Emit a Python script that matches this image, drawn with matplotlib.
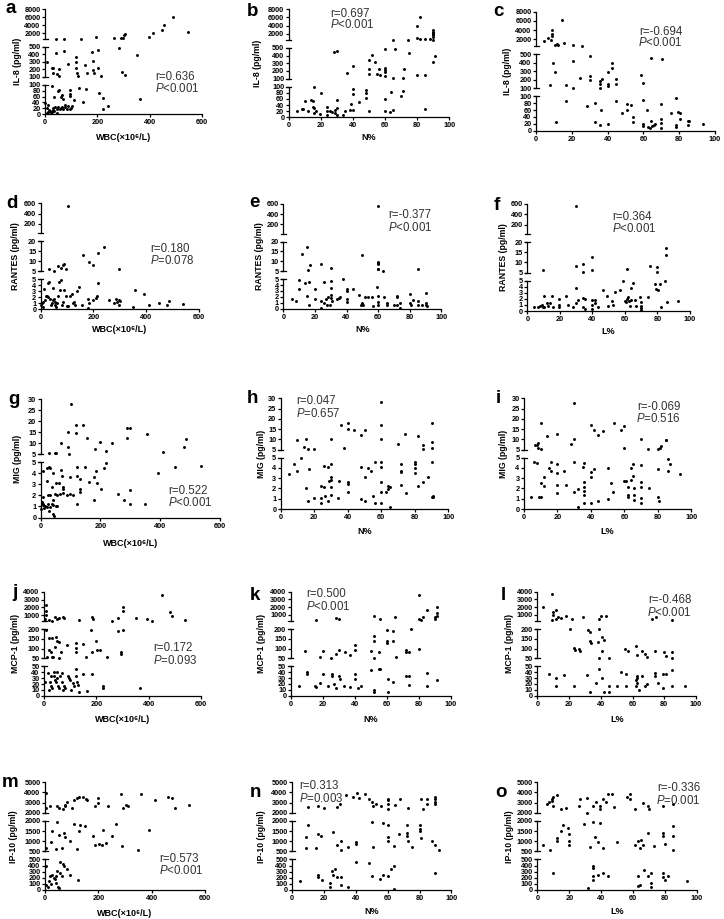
import numpy as np
import matplotlib
matplotlib.use("Agg")
import matplotlib.pyplot as plt

plt.rcParams['font.family'] = ['Liberation Sans', 'DejaVu Sans']
plt.rcParams['mathtext.fontset'] = 'custom'
plt.rcParams['mathtext.rm'] = 'Liberation Sans'
plt.rcParams['mathtext.it'] = 'Liberation Sans:italic'

# ---------------- data (x, y pairs) ----------------
# a: WBC vs IL-8
A_X = [42, 74, 137, 194, 262, 291, 297, 303, 304, 396, 414, 453, 489, 448, 545,
       6, 42, 28, 32, 29, 55, 47, 52, 74, 89, 120, 120, 120, 123, 128, 152, 162, 181, 185, 185, 188, 202, 202, 214, 282, 294, 304, 352,
       0, 6, 28, 36, 51, 55, 61, 65, 69, 96, 96, 96, 110, 130, 144, 158, 206, 221, 221, 241, 363,
       6, 10, 15, 22, 26, 29, 32, 38, 45, 51, 57, 65, 70, 77, 83, 89, 96, 102, 77, 45, 12, 18, 35, 60, 100]
A_Y = [600, 600, 600, 930, 680, 680, 850, 1500, 1750, 1100, 1900, 3970, 6100, 2800, 2160,
       300, 414, 218, 218, 155, 205, 141, 105, 450, 268, 360, 300, 222, 155, 105, 260, 155, 432, 305, 186, 155, 464, 210, 105, 490, 168, 123, 395,
       37, 20, 97, 58, 77, 81, 60, 64, 52, 83, 62, 70, 49, 87, 40, 85, 73, 56, 17, 27, 50,
       6, 9, 15, 6, 9, 15, 20, 24, 19, 24, 17, 24, 19, 24, 17, 28, 19, 28, 32, 6, 30, 12, 10, 20, 20]

# b: N% vs IL-8
B_X = [65, 74, 80, 82, 80, 82, 85, 88, 90, 90, 90, 90, 90, 90, 90,
       28, 30, 66, 52, 50, 54, 36, 40, 50, 50, 55, 56, 57, 60, 60, 60, 60, 60, 65, 71, 72, 75, 80, 85, 90, 91,
       5, 8, 9, 10, 12, 14, 15, 16, 15, 16, 16, 17, 19.5, 20, 24, 24, 24, 26, 27, 29, 29, 30, 30, 30, 34, 35, 38, 39, 40, 40, 40,
       44, 48, 48, 48, 50, 63, 64, 65, 60, 60, 71, 70, 85]
B_Y = [560, 560, 880, 640, 3840, 6080, 800, 800, 560, 1120, 1600, 1920, 2240, 2560, 2880,
       444, 461, 487, 405, 349, 311, 173, 268, 220, 156, 160, 220, 152, 487, 240, 212, 186, 134, 104, 104, 229, 431, 152, 152, 311, 392,
       19, 28, 28, 52, 21, 58, 52, 99, 33, 30, 13, 19, 10, 79, 33, 19, 8, 21, 17, 13, 24, 58, 9, 30, 8, 19, 24, 43, 91, 77, 24,
       50, 90, 80, 62, 19, 16, 82, 24, 60, 19, 86, 69, 28]

# c: L% vs IL-8
C_X = [4.5, 6.5, 8.7, 8.7, 9, 8.4, 10.8, 12, 12.3, 14.3, 15.6, 20.8, 25.5,
       7.6, 9.5, 10.6, 16.7, 20.8, 20.8, 24.5, 30, 30.3, 30.3, 35.7, 35.7, 35.7, 36.8, 40.3, 40.3, 40.3, 42.6, 42.6, 44.6, 44.6, 58.7, 60, 64, 70.3,
       11, 17, 28.6, 32.9, 32.9, 35.7, 36.4, 40.3, 44.6, 47.8, 50.6, 50.6, 53, 54, 54, 60, 60, 60, 62, 62.6, 63.6, 64, 65, 65.8, 66.4,
       70, 70, 70, 70, 75.3, 78.4, 78.4, 78.4, 79.6, 80.3, 80.3, 85, 85, 85.5, 93.3]
C_Y = [1556, 2222, 2667, 3926, 3185, 1926, 815, 890, 741, 6148, 1185, 741, 593,
       139, 394, 296, 139, 418, 103, 218, 480, 249, 202, 186, 155, 104, 206, 296, 147, 127, 394, 343, 206, 151, 257, 163, 449, 437,
       25, 86, 71, 80, 24, 16, 61, 20, 86, 51, 78, 61, 74, 41, 24, 89, 20, 14, 59, 12, 7, 28, 14, 17, 20,
       77, 34, 22, 9, 51, 95, 17, 10, 55, 53, 34, 29, 18, 29, 19]

# d: WBC vs RANTES
D_X = [102,
       159, 183, 200, 218, 240, 298, 33, 50, 67, 77, 86, 90, 96,
       0, 4, 8, 10, 14, 16, 19, 23, 27, 29, 33, 35, 38, 42, 45, 48, 50, 54, 56, 58, 63, 67, 71, 73, 76, 80, 86, 90, 96, 99,
       105, 111, 117, 124, 126, 130, 139, 145, 155, 178, 181, 184, 200, 210, 212, 218, 259, 279, 285, 290, 296, 298, 300,
       349, 359, 392, 410, 450, 478, 485, 538]
D_Y = [548,
       13, 9.5, 8, 14, 17.3, 6, 6, 5.3, 7.6, 6.8, 8.1, 8.5, 6.3,
       0.7, 1.1, 1.3, 0.4, 3.4, 1.6, 2.2, 2.3, 2.0, 4.4, 4.6, 1.8, 0.7, 1.0, 1.6, 3.6, 1.8, 0.7, 1.2, 0.4, 1.0, 2.3, 4.6, 3.2, 4.8, 0.7, 1.2, 3.3, 2.3, 0.5,
       0.6, 2.2, 2.5, 1.1, 1.3, 0.8, 3.1, 3.8, 0.7, 1.8, 0.2, 1.0, 1.6, 1.9, 2.2, 4.4, 1.5, 1.1, 1.8, 1.2, 1.5, 0.7, 1.4,
       0.4, 3.3, 2.5, 0.7, 1.1, 0.7, 1.4, 0.9]

# e: N% vs RANTES
E_X = [60,
       11.7, 15.2, 16.9, 15.8, 24, 30, 50, 60, 60, 60, 60, 60, 63, 85,
       5.3, 8, 10, 10, 14, 16, 15, 16, 20, 20, 24, 24, 26, 26, 27, 27.4, 28, 29.5, 30, 30, 30, 30, 30.8, 34, 35, 36, 38,
       40, 40, 40, 40, 44, 48, 49, 50, 50.6, 51.7, 53.8, 56, 56.5, 59.5, 60, 60, 60, 63.7, 65.4, 65.6, 70, 71.7, 72, 72,
       73.8, 74, 80, 80, 80.6, 82, 85, 85, 88, 90, 90, 90.7, 90.3]
E_Y = [560,
       13.8, 17.3, 8, 5.8, 8.5, 6.5, 13, 9.5, 9, 8.5, 6.3, 6, 5.3, 6.3,
       1.6, 1.3, 4.8, 3.3, 4.4, 4.5, 2.1, 0.6, 3.4, 1.7, 1.3, 0.2, 4.5, 1.0, 1.7, 0.7, 2.0, 0.7, 4.7, 3.5, 2.3, 1.8, 1.3, 1.7, 1.8, 1.9, 5,
       3.3, 3.0, 1.7, 1.1, 3.3, 2.4, 0.7, 1.0, 0.6, 1.9, 1.9, 1.9, 0.4, 3.6, 2.1, 1.1, 0.6, 1.9, 0.9, 0.6, 0.6, 2.2, 2.0, 0.6,
       1.0, 0.2, 2.5, 1.0, 0.7, 1.5, 1.3, 0.7, 0.7, 2.6, 0.9, 0.5, 0.6]

# f: L% vs RANTES
F_X = [30,
       9.8, 29.7, 34.4, 34.4, 39.5, 39.5, 61, 75.4, 80, 80, 85, 85,
       4, 6.8, 7.8, 8.8, 9.4, 10, 10, 12, 13, 14, 15, 16, 19.7, 19.7, 19.7, 24, 25, 28, 29.7, 30, 31, 34, 34, 35.5, 35.5,
       39.5, 39.5, 39.5, 41.6, 41.6, 43.6, 46.7, 48.8, 49.8, 51.8, 52.9, 54, 57, 59, 60, 60.7, 61, 61.7, 62.7, 63, 64, 64, 65, 66,
       67, 69, 70, 70, 70, 70, 74.4, 78.5, 79, 80.5, 81.6, 82, 84.6, 86, 92.8]
F_Y = [547,
       6.3, 8, 9.2, 5.2, 12.8, 6.3, 6.6, 8.3, 7.8, 5.5, 17.2, 13.8,
       0.6, 0.7, 0.9, 1.0, 0.7, 0.6, 2.5, 1.3, 0.8, 1.3, 2.5, 0.7, 2.0, 1.0, 0.6, 2.4, 1.0, 0.7, 3.7, 1.3, 1.8, 2.2, 0.6, 2.0, 0.4,
       1.8, 1.0, 0.4, 1.8, 1.3, 0.7, 3.4, 2.5, 0.8, 1.7, 1.0, 3.2, 3.4, 5.0, 1.7, 1.4, 1.9, 2.3, 1.7, 0.8, 1.8, 3.7, 4.6, 1.8,
       0.8, 2.3, 1.4, 0.9, 0.55, 0.2, 2.3, 4.4, 3.6, 3.4, 4.5, 0.7, 4.9, 1.5, 1.6]

# g: WBC vs MIG
G_X = [100, 118, 143, 118, 90, 68, 93, 95, 29, 48, 51, 156, 183, 199, 219, 239, 288, 288, 299, 357, 409, 478, 485,
       7, 20, 29, 31, 42, 20, 37, 50, 60, 67, 70, 76, 76, 98, 120, 120, 130, 130, 132, 149, 160, 180, 185, 189, 203, 212, 219,
       259, 279, 298, 298, 348, 391, 448, 537, 9, 23, 30, 42, 48, 54, 65, 73, 87, 98, 107, 121, 180, 7, 9, 15, 20, 11, 26, 31,
       40, 51, 56, 2, 4, 29, 37, 40, 45]
G_Y = [27.9, 18.3, 18.3, 14.7, 15, 10, 8.2, 5.2, 5.6, 5.6, 5.6, 12.3, 7.6, 10.6, 6.7, 10.2, 12.6, 16.8, 16.8, 14.4, 6.1, 8.5, 11.8,
       4.2, 4.5, 4.6, 4.5, 4.0, 3.3, 2.8, 3.1, 3.1, 4.3, 3.8, 2.8, 2.6, 3.7, 4.6, 3.8, 2.6, 2.3, 3.5, 4.6, 3.2, 3.7, 4.2, 3.1, 2.6, 4.5, 4.95,
       2.1, 1.6, 2.5, 1.2, 1.2, 4.0, 4.6, 4.7, 1.9, 2.0, 2.0, 1.6, 2.1, 2.0, 2.1, 2.2, 2.0, 2.1, 2.0, 1.25, 1.6, 1.25, 1.1, 1.0, 0.95, 0.85, 1.2, 0.95,
       1.15, 1.0, 1.0, 0.8, 1.4, 0.55, 1.25, 0.3, 0.1]

# h: N% vs MIG
H_X = [10, 15, 14, 16, 20, 30, 36, 38, 40, 40, 44, 48, 50, 60, 60, 60, 70, 74, 82, 85, 85, 90, 90, 90,
       5, 8, 10, 12, 15, 16, 17, 20, 24, 24, 24, 26, 26, 26.4, 28, 28, 29, 30, 30, 30, 30, 30, 35, 34, 40, 40, 40, 48, 48, 50, 50,
       52, 54, 55, 56, 56, 60, 60, 60, 60, 60, 63, 64, 64, 65, 65, 72, 72, 72, 72, 74.6, 80, 80, 80, 80, 82, 85, 88, 90, 90, 90.7, 91]
H_Y = [9.9, 10.2, 6.3, 5.5, 5.3, 10.4, 16.8, 5.7, 18.1, 15, 14.5, 12.0, 14.8, 28, 16.8, 10.2, 7.9, 12.5, 11.7, 7.5, 5.2, 18.1, 8.6, 6.0,
       3.4, 4.4, 3.7, 5.0, 2.0, 0.8, 3.9, 1.1, 1.1, 2.2, 0.55, 4.2, 2.1, 1.3, 4.1, 0.8, 2.7, 4.4, 3.1, 2.8, 2.1, 1.4, 2.7, 1.1, 2.6, 2.4, 1.7, 4.1, 0.95, 3.1, 0.8,
       4.0, 3.7, 1.3, 4.6, 0.55, 4.6, 4.1, 2.6, 1.7, 0.55, 1.7, 1.9, 2.2, 2.1, 0.15, 4.4, 3.7, 3.6, 2.3, 1.6, 4.6, 4.4, 4.0, 3.5, 2.2, 2.6, 3.1, 4.6, 1.2, 1.3, 1.2]

# i: L% vs MIG
I_X = [6.6, 8.2, 8.2, 7.6, 10, 10, 14, 20, 28, 30, 30, 40, 42, 44, 47, 54, 58, 60, 60, 70, 74, 80, 81, 82, 85, 85,
       4, 6, 8, 9, 10, 10, 12, 12, 15, 16, 16, 20, 20, 20, 20, 24, 25, 30, 30, 32, 32, 35.5, 36, 36, 36, 36, 36, 36, 40, 40, 40,
       42, 44, 50, 50, 52, 53, 60, 61, 62, 62, 62, 64, 64, 65, 65.3, 66, 66, 66, 70, 70, 70, 70, 70, 75, 80, 80, 80.6, 86, 87, 86, 93]
I_Y = [7.5, 8.3, 5.8, 7.1, 5.2, 18.1, 11.7, 12.5, 7.9, 10.4, 27.9, 16.9, 14.8, 12.0, 14.2, 18.1, 14.8, 16.4, 5.8, 10.2, 5.2, 5.5, 6.0, 6.6, 9.9, 9.9,
       1.2, 4.6, 4.5, 1.2, 1.2, 2.5, 3.1, 2.2, 4.0, 4.6, 3.7, 4.4, 3.5, 2.3, 1.6, 3.7, 2.3, 1.7, 4.6, 1.9, 0.15, 4.1, 2.1, 1.8, 1.4, 4.5, 2.6, 0.55, 3.6, 3.1, 0.55,
       3.9, 0.8, 4.0, 0.95, 2.5, 1.7, 2.7, 2.7, 2.1, 1.4, 1.2, 2.8, 4.0, 4.4, 3.2, 2.0, 1.4, 0.9, 4.3, 2.6, 2.1, 1.1, 0.55, 2.0, 3.9, 1.2, 0.8, 4.9, 4.4, 3.7, 3.4]

# j: WBC vs MCP-1
J_X = [6, 6, 6, 4, 19, 29, 42, 51, 57, 74, 76, 134, 182, 189, 261, 283, 302, 302, 350, 392, 411, 452, 480, 488, 540,
       6, 19, 29, 45, 51, 42, 57, 19, 25, 13, 32, 34, 57, 64, 89, 121, 121, 121, 150, 159, 181, 182, 197, 204, 214, 240, 282, 293, 293, 302,
       14, 27, 23, 5, 38, 41, 47, 50, 55, 59, 63, 68, 73, 77, 82, 91, 95, 98, 104, 109, 113, 122, 122, 127, 131, 134, 149, 163, 184,
       224, 224, 367, 27, 32, 20, 38, 50, 68]
J_Y = [2290, 1560, 1040, 485, 360, 270, 785, 440, 615, 700, 615, 360, 785, 485, 270, 615, 1990, 1560, 615, 440, 270, 3620, 1340, 870, 300,
       198, 153, 153, 162, 142, 108, 133, 95, 83, 55, 55, 58, 52, 83, 117, 130, 105, 83, 125, 55, 198, 83, 142, 92, 92, 55, 192, 83, 72, 195,
       39, 34, 24, 24, 33, 27, 23, 30, 17, 14, 33, 24, 9, 16, 13, 34, 30, 27, 10, 21, 16, 34, 45, 24, 18, 7, 37, 8, 37,
       13, 17, 14, 16, 14, 10, 40, 41, 39]

# k: N% vs MCP-1
K_X = [16, 28, 30, 52, 56, 65, 80, 80, 81, 82.5, 85, 91, 91, 91, 90, 90,
       9, 18, 20, 25, 28, 30, 34, 37, 40, 40, 50, 52, 52, 52, 55, 60, 60, 60, 64, 64, 66, 72, 72, 74, 75, 80,
       5, 10, 10, 15, 16, 18, 20, 23, 26, 26, 27, 28, 30, 31, 33, 37, 40, 40, 42, 44, 50, 52, 52, 55, 56, 61, 61, 64, 72, 74, 74, 85, 85, 91]
K_Y = [270, 615, 440, 870, 440, 785, 3600, 440, 350, 700, 1640, 1300, 1990, 870, 700, 435,
       90, 55, 90, 52, 72, 94, 84, 69, 119, 94, 89, 139, 165, 52, 85, 195, 139, 128, 192, 139, 57, 94, 85, 85, 198, 99,
       16, 41, 37, 16, 14, 21, 37, 16, 37, 33, 20, 13, 33, 29, 16, 14, 37, 29, 13, 16, 44, 7, 10, 46, 45, 28, 6, 24, 34, 33, 18, 39, 17, 27]

# l: L% vs MCP-1
L_X = [3.5, 9, 10, 12, 9, 13, 15, 18, 10, 12, 22, 29, 43.5, 39, 40, 72, 75, 85,
       20.6, 23, 23.5, 27, 32, 33, 33, 34, 38, 39, 41, 42, 39, 41, 26, 45, 55, 57, 62, 63, 66, 68, 69, 74, 80, 81, 85, 85,
       7, 12, 12, 17, 23, 31, 33, 37, 39, 41, 42, 45, 45, 50, 53, 56, 56, 62, 62, 63, 63, 63, 64, 66, 68, 69, 74, 74, 76, 79, 81, 79, 85, 85, 93]
L_Y = [2000, 3660, 1430, 1640, 350, 785, 570, 870, 1000, 440, 440, 785, 870, 440, 870, 440, 700, 350,
       198, 102, 94, 90, 195, 186, 139, 128, 133, 198, 161, 145, 52, 90, 99, 52, 97, 90, 114, 69, 90, 74, 57, 90, 85, 60, 85, 52,
       37, 30, 17, 36, 17, 36, 7, 21, 45, 31, 7, 7, 16, 16, 41, 16, 37, 16, 27, 30, 33, 21, 10, 34, 16, 20, 39, 33, 21, 37, 37, 13, 44, 17, 16]

# m: WBC vs IP-10
M_X = [5, 5, 19, 44, 54, 66, 75, 75, 84, 101, 110, 119, 128, 142, 154, 159, 189, 198, 198, 236, 285, 294, 303, 311, 360, 413, 460, 477, 486, 539,
       5, 23, 28, 40, 44, 54, 63, 72, 75, 93, 110, 119, 128, 131, 149, 180, 189, 201, 215, 219, 229, 250, 268, 290, 390, 350,
       5, 19, 26, 32, 37, 14, 23, 5, 10, 40, 49, 54, 44, 58, 66, 72, 58, 84, 93, 124, 40, 63]
M_Y = [3970, 2470, 2650, 2650, 2470, 2400, 2650, 2810, 3030, 2470, 3250, 3440, 3590, 3590, 3340, 3250, 2650, 2970, 3440, 2650, 3810, 2470, 2780, 2650, 3810, 3250, 3590, 3440, 2470, 2780,
       655, 965, 1517, 620, 1965, 1310, 655, 1400, 1225, 1000, 1830, 620, 1480, 1790, 1740, 1275, 830, 880, 830, 1570, 930, 1275, 1860, 790, 1530, 580,
       393, 225, 253, 197, 180, 140, 100, 84, 56, 112, 56, 28, 309, 281, 421, 393, 460, 348, 253, 169, 225, 225]

# n: N% vs IP-10
N_X = [10, 16, 20, 28, 30, 34, 38, 41, 42, 46, 48, 50, 51, 53, 56, 60, 60, 60, 60, 64.5, 68, 73, 81, 82, 85, 85, 90, 90, 90, 90,
       9, 10, 16, 18, 15, 9, 26, 28, 31, 31, 35, 40, 40, 50, 51, 57, 60, 60, 60, 64, 67, 72, 72, 72, 73, 75, 80, 80, 80, 81, 88, 90, 92,
       5, 16, 16, 19, 25, 25.5, 27, 24, 24, 28, 31, 31, 35, 40, 48, 50, 55, 57, 60, 62, 64, 64, 90]
N_Y = [2560, 2650, 2470, 2620, 2870, 3720, 3590, 3970, 3500, 3900, 3340, 3090, 2650, 2870, 2650, 3410, 3250, 2870, 2400, 2780, 3410, 2470, 3340, 2400, 3340, 2870, 3590, 3340, 3030, 2870,
       1225, 1790, 1340, 1275, 655, 655, 1450, 830, 1000, 570, 705, 965, 880, 1965, 705, 1910, 1790, 1190, 1000, 750, 1340, 1790, 1400, 1275, 1000, 705, 1790, 1620, 1480, 1170, 1000, 830, 585,
       140, 253, 214, 169, 309, 253, 337, 112, 56, 214, 214, 84, 56, 460, 440, 225, 180, 242, 225, 337, 393, 17, 270]

# o: L% vs IP-10
O_X = [6, 7, 9, 9, 10, 10, 12, 15, 18, 26, 27, 31, 31, 35, 37, 39, 39, 41, 43, 44, 47, 48, 56, 58, 58, 61, 66, 69, 70, 79, 85,
       3.5, 8, 12, 12, 15, 16, 19, 20, 20, 20, 29, 33, 35, 36, 38, 39, 41, 50, 61, 63, 64, 65, 66, 69, 73, 79, 79, 80, 85, 85, 85,
       10, 32, 35, 35, 35, 35, 38, 41, 44, 63, 63, 64, 67, 69, 71, 71, 71, 79, 79, 80, 82, 93.5]
O_Y = [2870, 3030, 3190, 3340, 3590, 2650, 3720, 2400, 2470, 2650, 3340, 3500, 2030, 2650, 3090, 2650, 2400, 3340, 3090, 3810, 3810, 2560, 3590, 3340, 3810, 2400, 2930, 2650, 2400, 2650, 2870,
       830, 585, 1170, 1000, 1480, 1790, 1650, 1340, 1000, 830, 1830, 705, 1965, 1225, 965, 1895, 655, 965, 830, 1000, 655, 1050, 830, 1400, 790, 1400, 1275, 880, 1740, 1275, 585,
       270, 28, 393, 365, 225, 169, 253, 270, 236, 236, 67, 84, 326, 225, 281, 112, 45, 270, 214, 169, 236, 140]

# axis segment definitions: (low, high, tick values)
IL8_SEGS = [(0, 100, [0, 20, 40, 60, 80, 100]), (100, 500, [100, 200, 300, 400, 500]), (500, 8000, [2000, 4000, 6000, 8000])]
RANTES_SEGS = [(0, 5, [0, 1, 2, 3, 4, 5]), (5, 20, [5, 10, 15, 20]), (20, 600, [200, 400, 600])]
MIG_SEGS = [(0, 5, [0, 1, 2, 3, 4, 5]), (5, 30, [5, 10, 15, 20, 25, 30])]
MCP1_SEGS = [(0, 50, [0, 10, 20, 30, 40, 50]), (50, 200, [50, 100, 150, 200]), (200, 4000, [1000, 2000, 3000, 4000])]
IP10_SEGS = [(0, 500, [0, 100, 200, 300, 400, 500]), (500, 2000, [500, 1000, 1500, 2000]), (2000, 5000, [2000, 3000, 4000, 5000])]

WBC_TICKS = [0, 200, 400, 600]
PCT_TICKS = [0, 20, 40, 60, 80, 100]
WBC_LABEL = "WBC(×10⁶/L)"

STATS = {'a': ("r=0.636", "<0.001"), 'b': ("r=0.697", "<0.001"), 'c': ("r=-0.694", "<0.001"),
         'd': ("r=0.180", "=0.078"), 'e': ("r=-0.377", "<0.001"), 'f': ("r=0.364", "<0.001"),
         'g': ("r=0.522", "<0.001"), 'h': ("r=0.047", "=0.657"), 'i': ("r=-0.069", "=0.516"),
         'j': ("r=0.172", "=0.093"), 'k': ("r=0.500", "<0.001"), 'l': ("r=-0.468", "<0.001"),
         'm': ("r=0.573", "<0.001"), 'n': ("r=0.313", "=0.003"), 'o': ("r=-0.336", "=0.001")}

# ---------------- drawing ----------------
W, H = 724, 919
fig = plt.figure(figsize=(W / 100, H / 100), dpi=100)
fig.patch.set_facecolor('white')

LW = 0.9
TS = 5.3
GAP = 8


def draw_panel(key, box, xs, ys, segs, xmax, xticks, ylabel, ylab_x, xlabel, xlab_y,
               letter_xy, ann_xy, ann_ha):
    x0, x1, yt, yb = box
    n = len(segs)
    seg_h = (yb - yt - GAP * (n - 1)) / n
    xs = np.asarray(xs, float)
    ys = np.asarray(ys, float)
    wpx = x1 - x0
    for i, (lo, hi, ticks) in enumerate(segs):
        bot = yb - i * (seg_h + GAP)
        ax = fig.add_axes([x0 / W, 1 - bot / H, wpx / W, seg_h / H])
        ax.set_xlim(0, xmax)
        ax.set_ylim(lo, hi)
        ax.patch.set_visible(False)
        for s in ('top', 'right'):
            ax.spines[s].set_visible(False)
        ax.spines['left'].set_linewidth(LW)
        ax.set_yticks(ticks)
        ax.set_yticklabels([str(t) for t in ticks], fontweight='bold')
        ax.tick_params(axis='y', direction='out', length=2.2, width=LW, labelsize=TS, pad=1)
        if i == 0:
            ax.spines['bottom'].set_linewidth(LW)
            ax.set_xticks(xticks)
            ax.set_xticklabels([str(t) for t in xticks], fontweight='bold')
            ax.tick_params(axis='x', direction='out', length=2.2, width=LW, labelsize=TS, pad=1.5)
            m = (ys >= lo) & (ys <= hi)
        else:
            ax.spines['bottom'].set_visible(False)
            ax.set_xticks([])
            m = (ys > lo) & (ys <= hi)
        dx = 2.5 / wpx
        if i > 0:
            ax.plot([-dx, dx], [0, 0], transform=ax.transAxes, color='k', lw=LW, clip_on=False)
        if i < n - 1:
            ax.plot([-dx, dx], [1, 1], transform=ax.transAxes, color='k', lw=LW, clip_on=False)
        ax.scatter(xs[m], ys[m], s=4.5, color='black', linewidths=0, clip_on=False, zorder=3)

    # labels
    fig.text(ylab_x / W, 1 - ((yt + yb) / 2) / H, ylabel, rotation=90, ha='center', va='center',
             fontsize=6.3, fontweight='bold')
    if xlabel:
        fig.text(((x0 + x1) / 2) / W, 1 - xlab_y / H, xlabel, ha='center', va='center',
                 fontsize=6.5, fontweight='bold')
    fig.text(letter_xy[0] / W, 1 - letter_xy[1] / H, key, ha='left', va='baseline',
             fontsize=13.5, fontweight='bold')
    r_txt, p_txt = STATS[key]
    ax_, y1, y2 = ann_xy
    fig.text(ax_ / W, 1 - y1 / H, r_txt, ha=ann_ha, va='center', fontsize=8.3, color='#333333')
    fig.text(ax_ / W, 1 - y2 / H, r"$\mathit{P}$" + p_txt, ha=ann_ha, va='center', fontsize=8.3, color='#333333')


panels = [
    ('a', (45, 202, 9.3, 114.3), A_X, A_Y, IL8_SEGS, 600, WBC_TICKS, "IL-8 (pg/ml)", 17, WBC_LABEL, 137, (6, 13), (155, 77, 88), 'left'),
    ('b', (288.7, 449.3, 9.3, 117.3), B_X, B_Y, IL8_SEGS, 100, PCT_TICKS, "IL-8 (pg/ml)", 258, "N%", 137, (247, 16), (330, 14, 25), 'left'),
    ('c', (536, 715, 11.7, 130.7), C_X, C_Y, IL8_SEGS, 100, PCT_TICKS, "IL-8 (pg/ml)", 508, None, 0, (493, 16), (683, 32, 43), 'right'),
    ('d', (40.7, 199, 203.3, 309.3), D_X, D_Y, RANTES_SEGS, 600, WBC_TICKS, "RANTES (pg/ml)", 15, WBC_LABEL, 330, (6, 208), (150, 249, 260), 'left'),
    ('e', (283.3, 441.3, 204, 308.7), E_X, E_Y, RANTES_SEGS, 100, PCT_TICKS, "RANTES (pg/ml)", 260, "N%", 329, (249, 207), (388, 215, 227), 'left'),
    ('f', (527.3, 690, 203.7, 311), F_X, F_Y, RANTES_SEGS, 100, PCT_TICKS, "RANTES (pg/ml)", 503, "L%", 331, (494, 210), (612, 217, 229), 'left'),
    ('g', (40.7, 220, 399.3, 517.5), G_X, G_Y, MIG_SEGS, 600, WBC_TICKS, "MIG (pg/ml)", 18, WBC_LABEL, 543, (8, 404), (168, 491, 503), 'left'),
    ('h', (280.7, 448.3, 398.3, 509), H_X, H_Y, MIG_SEGS, 100, PCT_TICKS, "MIG (pg/ml)", 261, "N%", 531, (247, 403), (296, 401, 413), 'left'),
    ('i', (524, 691.3, 398.3, 509), I_X, I_Y, MIG_SEGS, 100, PCT_TICKS, "MIG (pg/ml)", 504, "L%", 531, (496, 403), (681, 407, 419), 'right'),
    ('j', (44, 201, 592, 695.7), J_X, J_Y, MCP1_SEGS, 600, WBC_TICKS, "MCP-1 (pg/ml)", 16, WBC_LABEL, 719, (12, 597), (153, 648, 661), 'left'),
    ('k', (290.7, 451, 591.7, 695.7), K_X, K_Y, MCP1_SEGS, 100, PCT_TICKS, "MCP-1 (pg/ml)", 262, "N%", 720, (250, 600), (306, 594, 606), 'left'),
    ('l', (537.4, 696, 591.7, 695.7), L_X, L_Y, MCP1_SEGS, 100, PCT_TICKS, "MCP-1 (pg/ml)", 509, "L%", 720, (501, 600), (692, 600, 612), 'right'),
    ('m', (45, 205, 782.3, 890), M_X, M_Y, IP10_SEGS, 600, WBC_TICKS, "IP-10 (pg/ml)", 14, WBC_LABEL, 913, (2, 787), (159, 859, 871), 'left'),
    ('n', (292, 451.4, 782.3, 890), N_X, N_Y, IP10_SEGS, 100, PCT_TICKS, "IP-10 (pg/ml)", 262, "N%", 912, (250, 797), (299, 786, 798), 'left'),
    ('o', (537.4, 697, 782.3, 890), O_X, O_Y, IP10_SEGS, 100, PCT_TICKS, "IP-10 (pg/ml)", 509, "L%", 912, (495, 797), (701, 788, 800), 'right'),
]

for p in panels:
    draw_panel(*p)

fig.savefig("out.png", dpi=100, facecolor='white')
